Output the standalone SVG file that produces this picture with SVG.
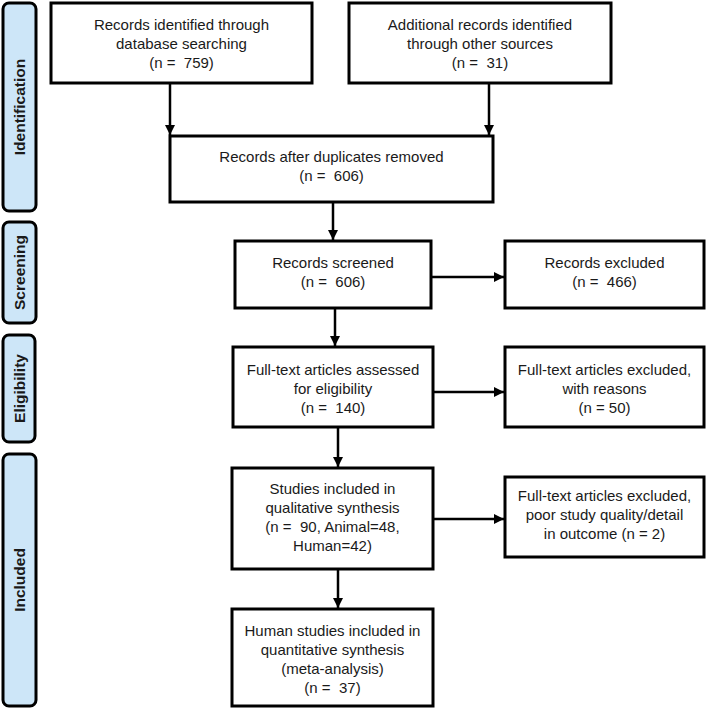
<svg xmlns="http://www.w3.org/2000/svg" width="708" height="708" viewBox="0 0 708 708">
<defs>
<marker id="ah" viewBox="0 0 10 10" refX="10" refY="5" markerWidth="4" markerHeight="4" orient="auto" markerUnits="strokeWidth">
<path d="M0,0 L10,5 L0,10 Z" fill="#000"/>
</marker>
<style>
.box{fill:#fff;stroke:#000;stroke-width:3}
.side{fill:#cde6f8;stroke:#000;stroke-width:3}
.t{font-family:"Liberation Sans",Arial,sans-serif;font-size:15px;fill:#1a1a1a;text-anchor:middle;white-space:pre}
.s{font-family:"Liberation Sans",Arial,sans-serif;font-size:15.5px;font-weight:bold;fill:#1a1a1a;text-anchor:middle}
.c{stroke:#000;stroke-width:2.5;fill:none;marker-end:url(#ah)}
</style>
</defs>
<rect width="708" height="708" fill="#fff"/>
<g id="stage-identification"><rect class="side" x="3" y="3" width="33" height="208" rx="6"/><text class="s" transform="translate(25,107) rotate(-90)">Identification</text></g>
<g id="stage-screening"><rect class="side" x="3" y="222" width="33" height="101" rx="6"/><text class="s" transform="translate(25,272.5) rotate(-90)">Screening</text></g>
<g id="stage-eligibility"><rect class="side" x="3" y="335" width="32" height="107" rx="6"/><text class="s" transform="translate(24.5,388.5) rotate(-90)">Eligibility</text></g>
<g id="stage-included"><rect class="side" x="3" y="454" width="33" height="252" rx="6"/><text class="s" transform="translate(25,580) rotate(-90)">Included</text></g>

<g id="connectors">
<path class="c" d="M170,83 V135"/>
<path class="c" d="M489,83 V135"/>
<path class="c" d="M333,202 V240"/>
<path class="c" d="M431,277 H504"/>
<path class="c" d="M335,308 V346"/>
<path class="c" d="M433,392 H504"/>
<path class="c" d="M338,427 V467"/>
<path class="c" d="M433,519 H504"/>
<path class="c" d="M338,569 V608"/>
</g>

<g id="n-db"><rect class="box" x="51" y="3" width="261" height="80"/>
<text class="t" x="181.5" y="30">Records identified through</text>
<text class="t" x="181.5" y="49">database searching</text>
<text class="t" x="181.5" y="68">(n =  759)</text></g>
<g id="n-other"><rect class="box" x="349" y="3" width="262" height="80"/>
<text class="t" x="480" y="30">Additional records identified</text>
<text class="t" x="480" y="49">through other sources</text>
<text class="t" x="480" y="68">(n =  31)</text></g>
<g id="n-dup"><rect class="box" x="170" y="136" width="323" height="66"/>
<text class="t" x="331.5" y="162">Records after duplicates removed</text>
<text class="t" x="331.5" y="181">(n =  606)</text></g>
<g id="n-screened"><rect class="box" x="235" y="241" width="196" height="67"/>
<text class="t" x="333" y="268">Records screened</text>
<text class="t" x="333" y="287">(n =  606)</text></g>
<g id="n-excl1"><rect class="box" x="505" y="241" width="199" height="67"/>
<text class="t" x="604.5" y="268">Records excluded</text>
<text class="t" x="604.5" y="287">(n =  466)</text></g>
<g id="n-fulltext"><rect class="box" x="233" y="347" width="200" height="80"/>
<text class="t" x="333" y="375">Full-text articles assessed</text>
<text class="t" x="333" y="394">for eligibility</text>
<text class="t" x="333" y="413">(n =  140)</text></g>
<g id="n-excl2"><rect class="box" x="505" y="347" width="199" height="80"/>
<text class="t" x="604.5" y="375">Full-text articles excluded,</text>
<text class="t" x="604.5" y="394">with reasons</text>
<text class="t" x="604.5" y="413">(n = 50)</text></g>
<g id="n-qual"><rect class="box" x="232" y="468" width="201" height="101"/>
<text class="t" x="332.5" y="494">Studies included in</text>
<text class="t" x="332.5" y="513">qualitative synthesis</text>
<text class="t" x="332.5" y="532">(n =  90, Animal=48,</text>
<text class="t" x="332.5" y="551">Human=42)</text></g>
<g id="n-excl3"><rect class="box" x="505" y="477" width="199" height="80"/>
<text class="t" x="604.5" y="501">Full-text articles excluded,</text>
<text class="t" x="604.5" y="520">poor study quality/detail</text>
<text class="t" x="604.5" y="539">in outcome (n = 2)</text></g>
<g id="n-quant"><rect class="box" x="232" y="609" width="201" height="97"/>
<text class="t" x="332.5" y="636">Human studies included in</text>
<text class="t" x="332.5" y="655">quantitative synthesis</text>
<text class="t" x="332.5" y="674">(meta-analysis)</text>
<text class="t" x="332.5" y="693">(n =  37)</text></g>
</svg>
